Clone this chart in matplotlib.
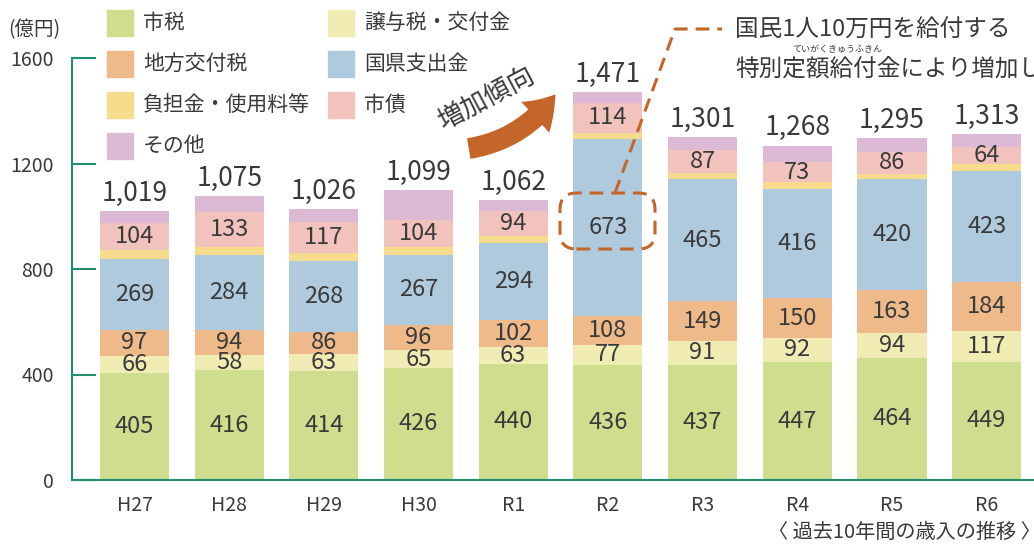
import numpy as np
import matplotlib
matplotlib.use('Agg')
import matplotlib.pyplot as plt
from matplotlib.patches import Rectangle, FancyBboxPatch, FancyArrowPatch
from matplotlib.lines import Line2D

plt.rcParams['font.family'] = ['Noto Sans CJK JP', 'DejaVu Sans']

years = ['H27', 'H28', 'H29', 'H30', 'R1', 'R2', 'R3', 'R4', 'R5', 'R6']
shizei = [405, 416, 414, 426, 440, 436, 437, 447, 464, 449]
joyo = [66, 58, 63, 65, 63, 77, 91, 92, 94, 117]
kofuzei = [97, 94, 86, 96, 102, 108, 149, 150, 163, 184]
kokken = [269, 284, 268, 267, 294, 673, 465, 416, 420, 423]
futan = [35, 33, 31, 28, 27, 23, 23, 26, 18, 27]
shisai = [104, 133, 117, 104, 94, 114, 87, 73, 86, 64]
sonota = [43, 57, 47, 113, 42, 40, 49, 64, 50, 49]
totals = [1019, 1075, 1026, 1099, 1062, 1471, 1301, 1268, 1295, 1313]

# stack order bottom -> top : (name, values, colour, labelled?)
series = [
    ('市税', shizei, '#cfdd8f', True),
    ('譲与税・交付金', joyo, '#f0ecb4', True),
    ('地方交付税', kofuzei, '#eeba8a', True),
    ('国県支出金', kokken, '#afcadd', True),
    ('負担金・使用料等', futan, '#f7dc8d', False),
    ('市債', shisai, '#f2c3bd', True),
    ('その他', sonota, '#dcbad5', False),
]

W, H = 1034, 544
GREEN = '#1f8f6f'
ORANGE = '#c4652a'
TXT = '#3a3a3a'

def fx(x):
    return x / W

def fy(y):
    return 1 - y / H

fig = plt.figure(figsize=(W / 100, H / 100), dpi=100)
ax = fig.add_axes([fx(72), fy(480), fx(1034 - 72), (480 - 58) / H])

x = np.arange(len(years))
bottom = np.zeros(len(years))
for name, vals, col, lab in series:
    vals = np.array(vals)
    ax.bar(x, vals, 0.73, bottom=bottom, color=col, zorder=2)
    if lab:
        for xi, b, v in zip(x, bottom, vals):
            ax.text(xi, b + v / 2, str(v), ha='center', va='center',
                    fontsize=17, color=TXT, zorder=3)
    bottom += vals

for xi, t in zip(x, totals):
    ax.annotate(f'{t:,}', (xi, t), xytext=(0, 3), textcoords='offset points',
                ha='center', va='bottom', fontsize=19, color=TXT)

ax.set_xlim(-0.66, 9.5)
ax.set_ylim(0, 1600)
ax.set_yticks([0, 400, 800, 1200, 1600])
ax.set_xticks(x)
ax.set_xticklabels(years)
for s in ['top', 'right']:
    ax.spines[s].set_visible(False)
for s in ['left', 'bottom']:
    ax.spines[s].set_color(GREEN)
    ax.spines[s].set_linewidth(1.5)
ax.tick_params(axis='y', direction='in', length=17, width=1.5, color=GREEN,
               labelsize=14, pad=13, labelcolor=TXT)
ax.tick_params(axis='x', length=0, labelsize=14, pad=11, labelcolor=TXT)

fig.text(fx(8), fy(30), '(億円)', fontsize=14, color=TXT, va='center')

# legend (two columns)
leg_pos = [(107, 10), (107, 51), (107, 92), (107, 133),
           (328, 10), (328, 51), (328, 92)]
order = [0, 2, 4, 6, 1, 3, 5]
for (lx, ly), k in zip(leg_pos, order):
    name, _, col, _ = series[k]
    fig.patches.append(Rectangle((fx(lx), fy(ly + 26)), 26 / W, 26 / H,
                                 transform=fig.transFigure, color=col))
    fig.text(fx(lx + 36), fy(ly + 13), name, fontsize=15, color=TXT, va='center')

# "増加傾向" arrow
arrow = FancyArrowPatch((fx(466), fy(149)), (fx(557), fy(92)),
                        transform=fig.transFigure,
                        connectionstyle='arc3,rad=0.22',
                        arrowstyle='Simple,tail_width=0.75,head_width=1.5,head_length=1.1',
                        mutation_scale=20, color=ORANGE, lw=0)
fig.patches.append(arrow)
fig.text(fx(486), fy(98), '増加傾向', fontsize=19, color=TXT, rotation=28,
         ha='center', va='center')

# dashed box around 673 and leader line
box = FancyBboxPatch((fx(560), fy(249)), 95 / W, 56 / H,
                     boxstyle='round,pad=0,rounding_size=0.016',
                     transform=fig.transFigure, fill=False, ec=ORANGE,
                     lw=2.2, ls=(0, (4.5, 2.6)), mutation_aspect=W / H, zorder=5)
fig.patches.append(box)
fig.lines.append(Line2D([fx(615), fx(675), fx(722)], [fy(193), fy(29), fy(29)],
                        transform=fig.transFigure, color=ORANGE, lw=2.2,
                        ls=(0, (4.5, 2.6))))

fig.text(fx(735), fy(30), '国民1人10万円を給付する', fontsize=17, color=TXT, va='center')
fig.text(fx(735), fy(69), '特別定額給付金により増加した', fontsize=17, color=TXT, va='center')
fig.text(fx(792), fy(50), 'ていがくきゅうふきん', fontsize=6.5, color=TXT, va='center')

fig.text(fx(768), fy(532), '〈 過去10年間の歳入の推移 〉', fontsize=14.5, color=TXT, va='center')

fig.savefig('out.png', dpi=100)
